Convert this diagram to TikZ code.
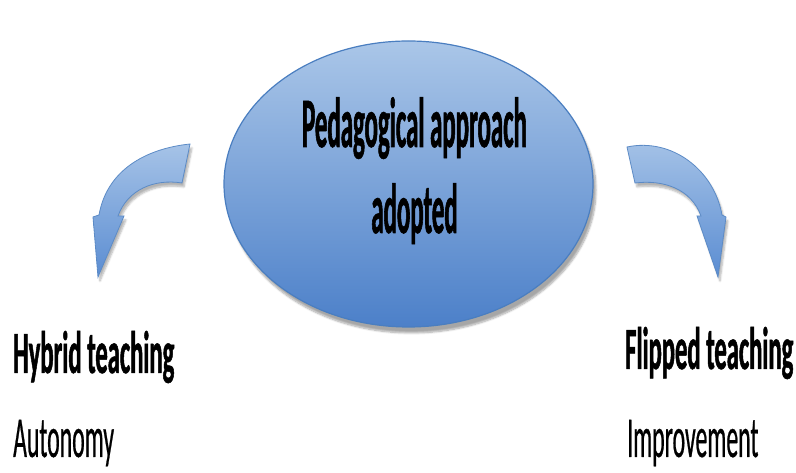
\documentclass[tikz,border=0pt]{standalone}
\usepackage{fontspec}
\usepackage{tikz}
\usetikzlibrary{shapes.geometric,shadows.blur}
\setmainfont{Carlito}
\newfontfamily\titlefont[FakeStretch=0.35,BoldFeatures={FakeBold=0.8}]{Carlito}
\newfontfamily\labelfont[FakeStretch=0.41,BoldFeatures={FakeBold=0.8},FakeBold=0.4]{Carlito}
\definecolor{ovaltop}{HTML}{AAC6E8}
\definecolor{ovalbot}{HTML}{4C80C9}
\definecolor{ovalline}{HTML}{4A7EC0}
\definecolor{arrowtop}{HTML}{A6C3E7}
\definecolor{arrowbot}{HTML}{5B8DD2}

\begin{document}
\begin{tikzpicture}[x=1pt,y=1pt,
  oval/.style={ellipse,draw=ovalline,line width=1.2pt,top color=ovaltop,bottom color=ovalbot,
    minimum width=369,minimum height=286,inner sep=0pt,
    blur shadow={shadow xshift=3pt,shadow yshift=-6pt,shadow blur steps=8,shadow opacity=35}},
  curvedarrow/.style={draw=ovalline!90,line width=0.8pt,top color=arrowtop,bottom color=arrowbot,
    blur shadow={shadow xshift=2pt,shadow yshift=-4pt,shadow blur steps=6,shadow opacity=30}},
  titletext/.style={font=\titlefont\bfseries\fontsize{71}{86}\selectfont,inner sep=0pt},
  headtext/.style={font=\labelfont\bfseries\fontsize{60}{72}\selectfont,inner sep=0pt,anchor=base west},
  subtext/.style={font=\labelfont\fontsize{58}{70}\selectfont,inner sep=0pt,anchor=base west}]
  \useasboundingbox (0,0) rectangle (796,473);

  % central oval
  \node[oval] (approach) at (408.5,289) {};
  \node[titletext,anchor=base] (line1) at ([xshift=6pt,yshift=37pt]approach.center) {Pedagogical approach};
  \node[titletext,anchor=base] (line2) at ([xshift=6pt,yshift=-49pt]approach.center) {adopted};

  % curved arrows on both sides
  \path[curvedarrow] (190,329) to[out=186,in=80] (99,258) -- (93,256) -- (98,196) -- (124,257)
    -- (118,257) to[out=70,in=171] (182,290) -- cycle;
  \path[curvedarrow] (627,326) to[out=12,in=100] (722,258) -- (726,256) -- (718,196) -- (697,257)
    -- (701,257) to[out=110,in=7] (635,290) -- cycle;

  % the two approaches
  \node[headtext] (hybrid) at (13,100) {Hybrid teaching};
  \node[subtext] (autonomy) at (13,16) {Autonomy};
  \node[headtext] (flipped) at (625,104) {Flipped teaching};
  \node[subtext] (improve) at (627,16) {Improvement};
\end{tikzpicture}
\end{document}
